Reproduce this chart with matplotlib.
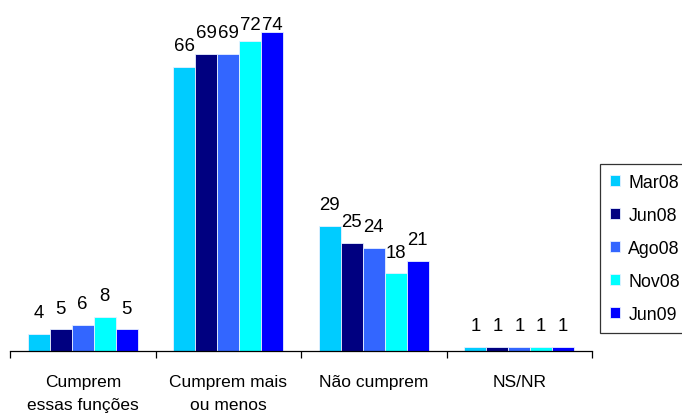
import matplotlib
matplotlib.use("Agg")
import matplotlib.pyplot as plt
import numpy as np

categories = ["Cumprem\nessas funções", "Cumprem mais\nou menos", "Não cumprem", "NS/NR"]
series = ["Mar08", "Jun08", "Ago08", "Nov08", "Jun09"]
values = {
    "Mar08": [4, 66, 29, 1],
    "Jun08": [5, 69, 25, 1],
    "Ago08": [6, 69, 24, 1],
    "Nov08": [8, 72, 18, 1],
    "Jun09": [5, 74, 21, 1],
}
colors = ["#00CCFF", "#000080", "#3366FF", "#00FFFF", "#0000FF"]

plt.rcParams['font.family'] = ['Liberation Sans', 'DejaVu Sans']

fig = plt.figure(figsize=(6.82, 4.14), dpi=100)
ax = fig.add_axes([10/682, 1-352/414, 582/682, 352/414])

ymax = 81.7
label_gap = 3.9      # data units between bar top and label baseline
label_cap = 74.7     # labels cannot rise above this baseline

x = np.arange(len(categories))
w = 0.151
for i, s in enumerate(series):
    pos = x + (i - 2) * w
    ax.bar(pos, values[s], width=w, color=colors[i], edgecolor="#e8f0ff",
           linewidth=0.6, label=s)
    for p, v in zip(pos, values[s]):
        ax.text(p, min(v + label_gap, label_cap), str(v), ha="center",
                va="baseline", fontsize=13.4)

ax.set_xlim(-0.5, 3.5)
ax.set_ylim(0, ymax)
for sp in ["top", "right", "left"]:
    ax.spines[sp].set_visible(False)
ax.spines["bottom"].set_linewidth(0.9)
ax.set_yticks([])
ax.set_xticks([-0.5, 0.5, 1.5, 2.5, 3.5])
ax.set_xticklabels([])
ax.tick_params(axis="x", length=5, width=0.9, direction="out")
for xi, c in zip(x, categories):
    ax.text(xi, -5.3, c, ha="center", va="top", fontsize=12.5, linespacing=1.65)

handles, labels = ax.get_legend_handles_labels()
leg = fig.legend(handles, labels, loc="upper left", bbox_to_anchor=(600/682, 1-165/414),
                 frameon=True, fancybox=False, edgecolor="black", fontsize=12.8,
                 handlelength=0.6, handleheight=0.6, handletextpad=0.45,
                 labelspacing=0.9, borderpad=0.55, borderaxespad=0)
leg.get_frame().set_linewidth(0.9)

fig.savefig("out.png", dpi=100)
